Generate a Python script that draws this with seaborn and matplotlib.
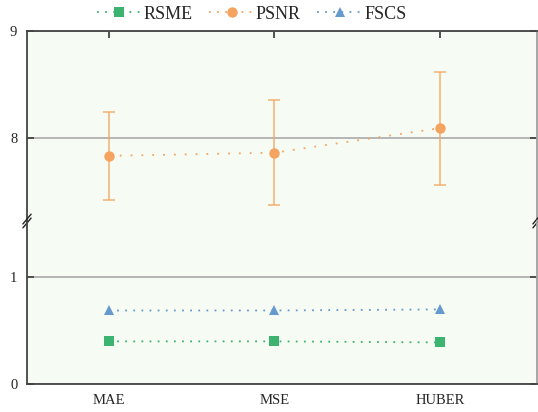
import numpy as np
import pandas as pd
import matplotlib
matplotlib.use("Agg")
import matplotlib.pyplot as plt
import seaborn as sns

# data
losses = ["MAE", "MSE", "HUBER"]
rsme = [0.40, 0.40, 0.39]
psnr = [7.83, 7.86, 8.09]
psnr_err = [0.41, 0.49, 0.53]
fscs = [0.69, 0.69, 0.70]

sns.set_style("white")
plt.rcParams['font.family'] = ['Liberation Serif', 'DejaVu Serif']

green = "#3cb371"
orange = "#f4a460"
blue = "#6699cc"
bg = "#f6fbf4"
dots = (0, (1, 5))

df = pd.DataFrame({"x": np.arange(len(losses)), "RSME": rsme, "PSNR": psnr, "FSCS": fscs})

fig = plt.figure(figsize=(5.38, 4.12), dpi=100)
ax_top = fig.add_axes([0.0502, 0.4636, 0.9479, 0.4612])
ax_bot = fig.add_axes([0.0502, 0.068, 0.9479, 0.3956])

for ax in (ax_top, ax_bot):
    ax.set_facecolor(bg)
    sns.lineplot(data=df, x="x", y="RSME", ax=ax, color=green, linestyle=dots, lw=1.3,
                 marker="s", markersize=6.5, markeredgewidth=0, label="RSME")
    ax.errorbar(df["x"], df["PSNR"], yerr=psnr_err, fmt="none", ecolor=orange,
                alpha=0.8, elinewidth=1.2, capsize=4.5, capthick=1.2)
    sns.lineplot(data=df, x="x", y="PSNR", ax=ax, color=orange, linestyle=dots, lw=1.3,
                 marker="o", markersize=7.5, markeredgewidth=0, label="PSNR")
    sns.lineplot(data=df, x="x", y="FSCS", ax=ax, color=blue, linestyle=dots, lw=1.3,
                 marker="^", markersize=7.5, markeredgewidth=0, label="FSCS")
    ax.set_xlim(-0.495, 2.586)
    ax.set_xticks(df["x"])
    ax.set_xlabel("")
    ax.set_ylabel("")
    ax.grid(axis="y", color="#b0b0b0", lw=1.3)
    ax.tick_params(direction="in", length=5, width=1.3, color="#444444",
                   labelsize=10.5, pad=7, left=True, right=True)
    for s in ax.spines.values():
        s.set_color("#444444")
        s.set_linewidth(1.3)
    ax.spines["right"].set_color("#a0a0a0")

ax_top.set_ylim(7.22, 9)
ax_top.set_yticks([8, 9])
ax_top.spines["bottom"].set_visible(False)
ax_top.tick_params(bottom=False, labelbottom=False, top=True, labeltop=False)
ax_top.get_legend().remove()

ax_bot.set_ylim(0, 1.53)
ax_bot.set_yticks([0, 1])
ax_bot.spines["top"].set_visible(False)
ax_bot.set_xticklabels(losses)
ax_bot.get_legend().remove()

# break marks on the side spines
for xb in (0, 1):
    for dy in (-0.012, 0.012):
        ax_bot.plot([xb - 0.008, xb + 0.008], [1.0 + dy - 0.03, 1.0 + dy + 0.03],
                    transform=ax_bot.transAxes, color="#222222", lw=1.0, clip_on=False)

handles, labels = ax_bot.get_legend_handles_labels()
for h in handles:
    h.set_linestyle((0, (1, 3.5)))
fig.legend(handles, labels, loc="center", bbox_to_anchor=(0.4675, 0.966), ncol=3,
           frameon=False, fontsize=13, handlelength=2.5, handletextpad=0.1,
           columnspacing=0.9)

fig.savefig("out.png", dpi=100, facecolor="white")
